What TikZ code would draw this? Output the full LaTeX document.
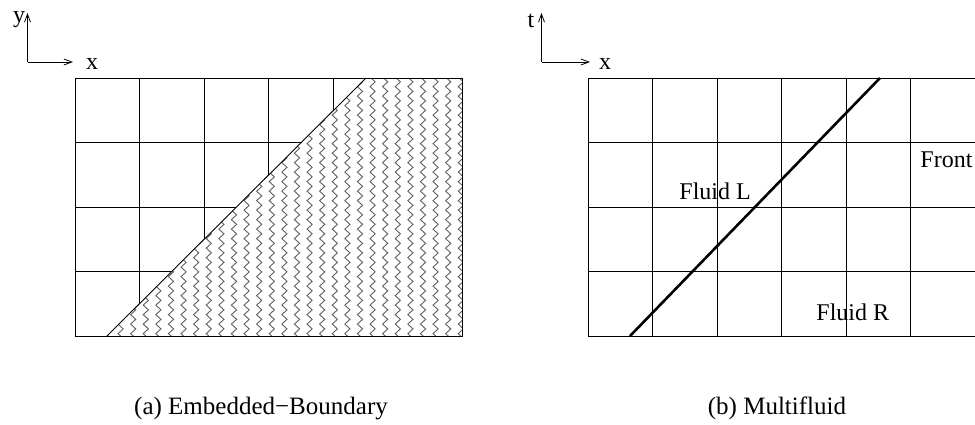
\documentclass[tikz,border=0pt]{standalone}
\usepackage{fontspec}
\setmainfont{Liberation Serif}
\usetikzlibrary{arrows.meta}
\usetikzlibrary{decorations.pathmorphing}
\definecolor{hatchgray}{HTML}{606060}

\begin{document}
\begin{tikzpicture}[x = 1pt, y = -1pt, line width = 0.9pt,
    axis/.style = {-{Straight Barb[length = 8pt, width = 6pt]}, line width = 0.8pt},
    label/.style = {font = \fontsize{24}{28}\selectfont, inner sep = 0pt},
    caption/.style = {font = \fontsize{25}{30}\selectfont, inner sep = 0pt},
    zig/.style = {hatchgray, line width = 0.9pt, decorate,
      decoration = {zigzag, segment length = 9.5pt, amplitude = 2.6pt}}]%
    \useasboundingbox (0, 0) rectangle (975, 424);

    % (a) embedded boundary
    \begin{scope}
      \coordinate (oa) at (27.5, 62);
      \coordinate (ya) at (27.5, 13);
      \coordinate (xa) at (73, 62);
      \draw[axis] (oa) -- (ya);
      \draw[axis] (oa) -- (xa);
      \node[label] (lya) at (19, 20) {y};
      \node[label] (lxa) at (92, 64) {x};

      \foreach \i in {1, ..., 5}
        \draw (75 + 64.5*\i, 78) -- (75 + 64.5*\i, 336);
      \foreach \j in {1, ..., 3}
        \draw (75, 78 + 64.5*\j) -- (462, 78 + 64.5*\j);

      \begin{scope}
        \clip (107, 336) -- (366, 78) -- (462, 78) -- (462, 336) -- cycle;
        \fill[white] (100, 70) rectangle (470, 345);
        \foreach \k in {0, ..., 30}
          \draw[zig] (108 + 12.6*\k, 70) -- (108 + 12.6*\k, 345);
      \end{scope}

      \draw (75, 78) rectangle (462, 336);
      \draw (107, 336) -- (366, 78);

      \node[caption, anchor = base] (capa) at (261, 414) {(a) Embedded−Boundary};
    \end{scope}

    % (b) multifluid
    \begin{scope}
      \coordinate (ob) at (541.5, 62);
      \coordinate (tb) at (541.5, 13);
      \coordinate (xb) at (590, 62);
      \draw[axis] (ob) -- (tb);
      \draw[axis] (ob) -- (xb);
      \node[label] (ltb) at (531, 21) {t};
      \node[label] (lxb) at (605, 64) {x};

      \foreach \i in {1, ..., 5}
        \draw (588 + 64.5*\i, 78) -- (588 + 64.5*\i, 336);
      \foreach \j in {1, ..., 3}
        \draw (588, 78 + 64.5*\j) -- (975, 78 + 64.5*\j);
      \draw (588, 78) rectangle (975, 336);

      \draw[line width = 2.6pt] (630, 336) -- (880, 78);

      \node[label, anchor = base west] (fl) at (679, 199) {Fluid L};
      \node[label, anchor = base west] (fr) at (816, 320) {Fluid R};
      \node[label, anchor = base west] (front) at (920, 167) {Front};

      \node[caption, anchor = base] (capb) at (777, 414) {(b) Multifluid};
    \end{scope}
  \end{tikzpicture}
\end{document}
